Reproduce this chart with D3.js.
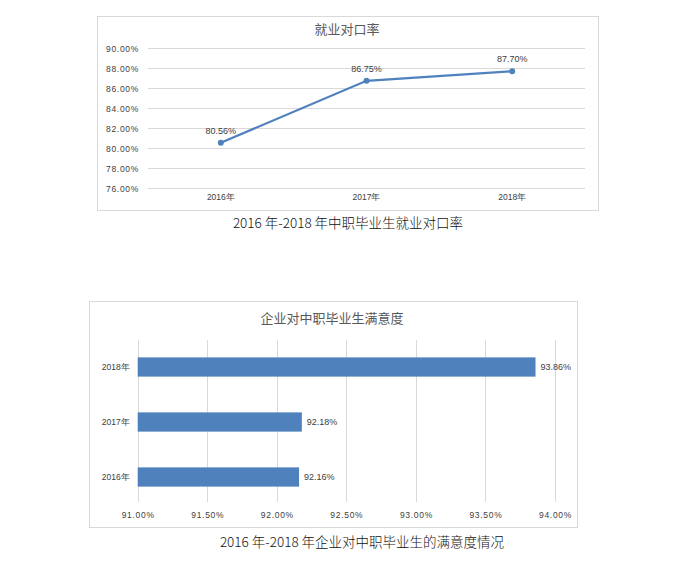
<!DOCTYPE html>
<html><head><meta charset="utf-8">
<script src="https://cdn.jsdelivr.net/npm/d3@7"></script>
<style>
body{margin:0;background:#fff;}
svg{display:block;}
text{font-family:"Liberation Sans","DejaVu Sans",sans-serif;}
.cjk{font-family:"Noto Sans CJK SC",sans-serif;}
</style></head>
<body>
<svg id="c" width="700" height="587"></svg>
<script>
// Data: chart 1 (line)
const lineTitle = "就业对口率";
const lineCategories = ["2016年", "2017年", "2018年"];
const lineValues = [80.56, 86.75, 87.70];
const lineTicks = [76, 78, 80, 82, 84, 86, 88, 90];
const lineCaption = "2016 年-2018 年中职毕业生就业对口率";

// Data: chart 2 (bar)
const barTitle = "企业对中职毕业生满意度";
const barCategories = ["2018年", "2017年", "2016年"];
const barValues = [93.86, 92.18, 92.16];
const barTicks = [91.0, 91.5, 92.0, 92.5, 93.0, 93.5, 94.0];
const barCaption = "2016 年-2018 年企业对中职毕业生的满意度情况";

const blue = "#4f81bd";
const grid = "#d9d9d9";
const txt = "#404040";
const svg = d3.select("#c");

// ---------- Chart 1 ----------
svg.append("rect").attr("x",97.5).attr("y",16.5).attr("width",501).attr("height",194)
  .attr("fill","#fff").attr("stroke","#d9d9d9");
svg.append("text").attr("class","cjk").attr("x",347).attr("y",34).attr("text-anchor","middle")
  .attr("font-size",13).attr("fill","#595959").text(lineTitle);

const x1 = d3.scaleBand().domain(lineCategories).range([148,585]);
const y1 = d3.scaleLinear().domain([76,90]).range([188.3,48.3]);
svg.selectAll("line.grid").data(lineTicks).enter().append("line")
  .attr("x1",148).attr("x2",585).attr("y1",d=>Math.round(y1(d))+0.5).attr("y2",d=>Math.round(y1(d))+0.5)
  .attr("stroke",grid).attr("stroke-width",1);
const yAx1 = svg.append("g").attr("transform","translate(148,0)")
  .call(d3.axisLeft(y1).tickValues(lineTicks).tickSize(0).tickPadding(9).tickFormat(d=>d.toFixed(2)+"%"));
yAx1.select(".domain").remove();
yAx1.selectAll("text").attr("font-size",8.5).attr("fill",txt).attr("letter-spacing","0.7px");
const xAx1 = svg.append("g").attr("transform","translate(0,188)")
  .call(d3.axisBottom(x1).tickSize(0).tickPadding(6));
xAx1.select(".domain").remove();
xAx1.selectAll("text").attr("font-size",8.5).attr("fill",txt);

const pts = lineCategories.map((c,i)=>[x1(c)+x1.bandwidth()/2, y1(lineValues[i])]);
svg.append("path").attr("d",d3.line()(pts)).attr("fill","none").attr("stroke",blue).attr("stroke-width",2.2);
svg.selectAll("circle.pt").data(pts).enter().append("circle")
  .attr("cx",d=>d[0]).attr("cy",d=>d[1]).attr("r",3).attr("fill",blue);
svg.selectAll("text.lbl1").data(lineValues).enter().append("text")
  .attr("x",(d,i)=>pts[i][0]).attr("y",(d,i)=>pts[i][1]-9).attr("text-anchor","middle")
  .attr("font-size",9).attr("fill",txt).text(d=>d.toFixed(2)+"%");

svg.append("text").attr("class","cjk").attr("x",348).attr("y",228).attr("text-anchor","middle")
  .attr("font-size",13.5).attr("font-weight",300).attr("fill","#111").text(lineCaption);

// ---------- Chart 2 ----------
svg.append("rect").attr("x",89.5).attr("y",301.5).attr("width",488).attr("height",226)
  .attr("fill","#fff").attr("stroke","#d9d9d9");
svg.append("text").attr("class","cjk").attr("x",332).attr("y",323).attr("text-anchor","middle")
  .attr("font-size",13).attr("fill","#595959").text(barTitle);

const x2 = d3.scaleLinear().domain([91,94]).range([137.7,555]);
const y2 = d3.scaleBand().domain(barCategories).range([339.5,504.5]).paddingInner(0.65).paddingOuter(0.325);
svg.selectAll("line.g2").data(barTicks).enter().append("line")
  .attr("x1",d=>Math.round(x2(d))+0.5).attr("x2",d=>Math.round(x2(d))+0.5).attr("y1",340).attr("y2",502)
  .attr("stroke",grid).attr("stroke-width",1);
svg.selectAll("rect.bar").data(barValues).enter().append("rect")
  .attr("x",x2(91)).attr("y",(d,i)=>y2(barCategories[i]))
  .attr("width",d=>x2(d)-x2(91)).attr("height",y2.bandwidth()).attr("fill",blue);
svg.selectAll("text.lbl2").data(barValues).enter().append("text")
  .attr("x",d=>x2(d)+5).attr("y",(d,i)=>y2(barCategories[i])+y2.bandwidth()/2).attr("dy","0.35em")
  .attr("font-size",9).attr("fill",txt).text(d=>d.toFixed(2)+"%");
const yAx2 = svg.append("g").attr("transform","translate(137.7,0)")
  .call(d3.axisLeft(y2).tickSize(0).tickPadding(8));
yAx2.select(".domain").remove();
yAx2.selectAll("text").attr("font-size",8.5).attr("fill",txt);
const xAx2 = svg.append("g").attr("transform","translate(0,508)")
  .call(d3.axisBottom(x2).tickValues(barTicks).tickSize(0).tickPadding(4).tickFormat(d=>d.toFixed(2)+"%"));
xAx2.select(".domain").remove();
xAx2.selectAll("text").attr("font-size",8.5).attr("fill",txt).attr("letter-spacing","0.7px");

svg.append("text").attr("class","cjk").attr("x",362).attr("y",547).attr("text-anchor","middle")
  .attr("font-size",13.5).attr("font-weight",300).attr("fill","#111").text(barCaption);
</script>
</body></html>
